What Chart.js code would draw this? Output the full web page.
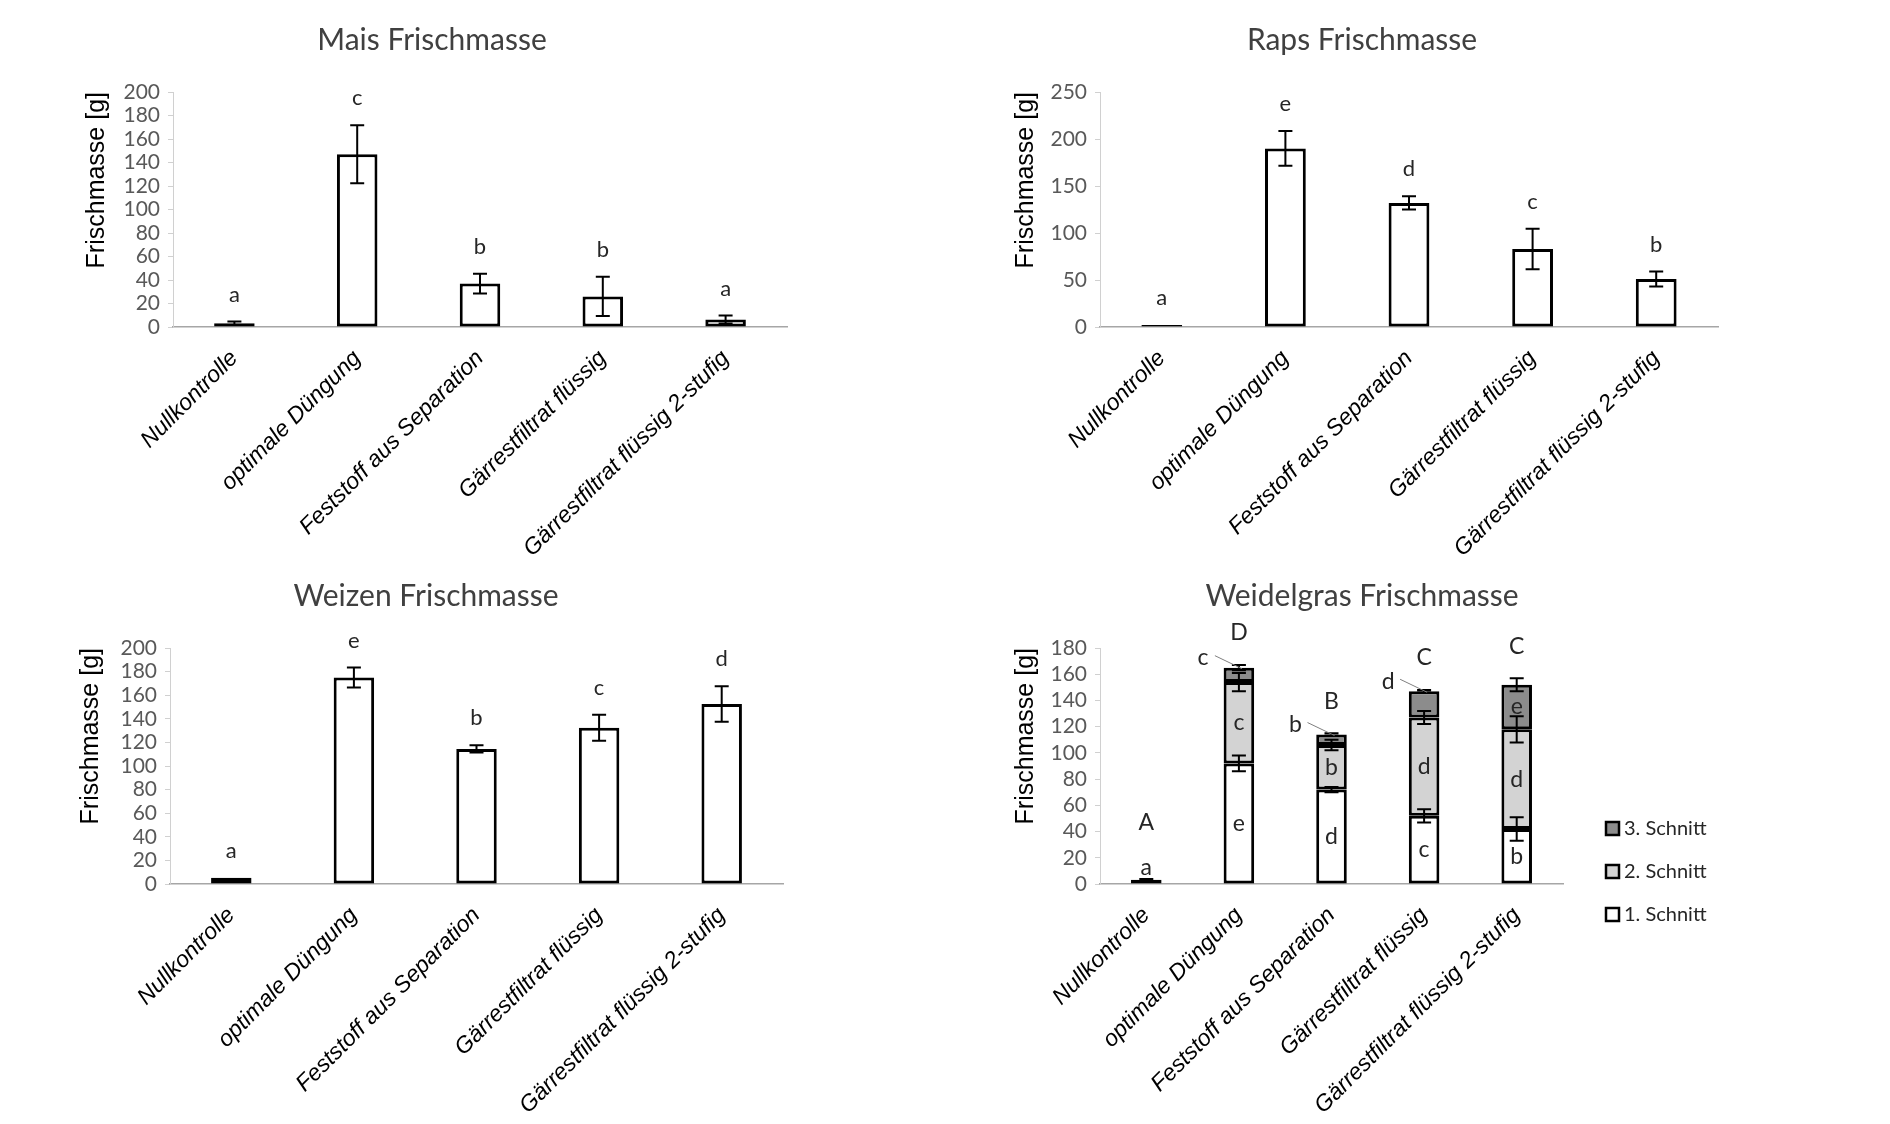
<!DOCTYPE html>
<html lang="de">
<head>
<meta charset="utf-8">
<title>Frischmasse</title>
<script src="https://cdn.jsdelivr.net/npm/chart.js@4.4.1/dist/chart.umd.min.js"></script>
<style>
  html, body { margin: 0; padding: 0; background: #fff; }
  body { width: 1890px; height: 1124px; position: relative; overflow: hidden; }
  .panel { position: absolute; }
</style>
</head>
<body>
<div class="panel" style="left:0;top:0;width:945px;height:562px"><canvas id="mais-chart"></canvas></div>
<div class="panel" style="left:945px;top:0;width:945px;height:562px"><canvas id="raps-chart"></canvas></div>
<div class="panel" style="left:0;top:556px;width:945px;height:568px"><canvas id="weizen-chart"></canvas></div>
<div class="panel" style="left:945px;top:556px;width:945px;height:568px"><canvas id="gras-chart"></canvas></div>
<script>
// treatments, same order in all four panels
const categories = ['Nullkontrolle', 'optimale Düngung', 'Feststoff aus Separation', 'Gärrestfiltrat flüssig', 'Gärrestfiltrat flüssig 2-stufig'];

const maisValues = [3.1, 147, 37, 26, 6.3];
const maisErrors = [1.5, 24.6, 8.4, 16.7, 3.4];
const maisLetters = ['a', 'c', 'b', 'b', 'a'];
const maisTicks = [0, 200, 20];

const rapsValues = [2, 190, 132, 83, 51];
const rapsErrors = [0, 18.5, 7, 21.5, 8];
const rapsLetters = ['a', 'e', 'd', 'c', 'b'];
const rapsTicks = [0, 250, 50];

const weizenValues = [5.4, 175, 114.5, 132.5, 152.5];
const weizenErrors = [0, 8.5, 3, 11, 15];
const weizenLetters = ['a', 'e', 'b', 'c', 'd'];
const weizenTicks = [0, 200, 20];

// Weidelgras: three cuts stacked
const grasSeries = ['1. Schnitt', '2. Schnitt', '3. Schnitt'];
const gras1Values = [3.3, 92, 72, 52, 42];
const gras1Errors = [0.5, 6, 2, 5, 9];
const gras1Letters = ['a', 'e', 'd', 'c', 'b'];
const gras2Values = [0, 62, 34, 75, 76];
const gras2Errors = [0, 7, 4, 5, 10];
const gras2Letters = ['', 'c', 'b', 'd', 'd'];
const gras3Values = [0, 11, 8, 20, 34];
const gras3Errors = [0, 2, 1, 1, 5];
const gras3Letters = ['', 'c', 'b', 'd', 'e'];
const grasTotalLetters = ['A', 'D', 'B', 'C', 'C'];
const grasTicks = [0, 180, 20];

const grasColors = ['#ffffff', '#d3d3d3', '#8c8c8c'];

// error bars, significance letters, panel title, legend
const annotatePlugin = {
    id: 'annotate',
    afterDatasetsDraw(chart, args, opts) {
        const ctx = chart.ctx;
        const yScale = chart.scales.y;
        const tops = categories.map(() => Infinity);
        ctx.save();
        ctx.strokeStyle = '#000';
        ctx.lineWidth = 2;
        chart.data.datasets.forEach((ds, i) => {
            const meta = chart.getDatasetMeta(i);
            meta.data.forEach((bar, j) => {
                if (!ds.data[j]) return;
                tops[j] = Math.min(tops[j], bar.y);
                const err = ds.errors[j];
                if (!err) return;
                const topValue = yScale.getValueForPixel(bar.y);
                const hi = yScale.getPixelForValue(topValue + err);
                const lo = yScale.getPixelForValue(topValue - err);
                ctx.beginPath();
                ctx.moveTo(bar.x, hi); ctx.lineTo(bar.x, lo);
                ctx.moveTo(bar.x - 7, hi); ctx.lineTo(bar.x + 7, hi);
                ctx.moveTo(bar.x - 7, lo); ctx.lineTo(bar.x + 7, lo);
                ctx.stroke();
                tops[j] = Math.min(tops[j], hi);
            });
        });

        ctx.fillStyle = '#262626';
        ctx.textAlign = 'center';
        ctx.textBaseline = 'middle';
        ctx.font = '22px Lato';

        if (!opts.stacked) {
            const meta = chart.getDatasetMeta(0);
            meta.data.forEach((bar, j) => {
                ctx.fillText(chart.data.datasets[0].letters[j], bar.x, tops[j] - 27);
            });
        } else {
            const lifted = categories.map(() => 0);
            chart.data.datasets.forEach((ds, i) => {
                const meta = chart.getDatasetMeta(i);
                meta.data.forEach((bar, j) => {
                    const letter = ds.letters[j];
                    if (!letter) return;
                    const h = bar.base - bar.y;
                    ctx.font = '23px Lato';
                    if (h > 32) {
                        ctx.fillText(letter, bar.x, (bar.y + bar.base) / 2);
                    } else if (i === 0) {
                        ctx.fillText(letter, bar.x, bar.y - 12);
                        lifted[j] = 24;
                    } else {
                        // small top segment: letter sits left of the bar with a leader line
                        const lx = bar.x - 36;
                        const ly = bar.y - 10;
                        ctx.fillText(letter, lx, ly);
                        ctx.save();
                        ctx.strokeStyle = '#7f7f7f';
                        ctx.lineWidth = 1;
                        ctx.beginPath();
                        ctx.moveTo(lx + 12, ly - 2);
                        ctx.lineTo(bar.x + 3, bar.y + 1);
                        ctx.stroke();
                        ctx.restore();
                    }
                });
            });
            ctx.font = '23px Lato';
            opts.totalLetters.forEach((letter, j) => {
                ctx.fillText(letter, chart.getDatasetMeta(0).data[j].x, tops[j] - lifted[j] - 32);
            });
        }
        ctx.restore();
    },
    afterDraw(chart, args, opts) {
        const ctx = chart.ctx;
        ctx.save();
        ctx.fillStyle = '#404040';
        ctx.font = '30px Lato';
        ctx.textAlign = 'center';
        ctx.textBaseline = 'middle';
        ctx.fillText(opts.title, opts.titleX, 40);

        if (opts.legendX) {
            // legend lists the cuts top-down from 3 to 1
            ctx.font = '20px Lato';
            ctx.textAlign = 'left';
            const items = chart.data.datasets.slice().reverse();
            items.forEach((ds, k) => {
                const y = opts.legendY + k * 43;
                ctx.fillStyle = ds.backgroundColor;
                ctx.fillRect(opts.legendX, y - 6, 13, 13);
                ctx.strokeStyle = '#000';
                ctx.lineWidth = 2.5;
                ctx.strokeRect(opts.legendX, y - 6, 13, 13);
                ctx.fillStyle = '#262626';
                ctx.fillText(ds.label, opts.legendX + 18, y + 1);
            });
        }
        ctx.restore();
    }
};

function buildOptions(frame, ticks, stacked, annotate) {
    return {
        responsive: true,
        maintainAspectRatio: false,
        animation: false,
        layout: { padding: { left: frame.padLeft, right: frame.padRight, top: 92, bottom: 0 } },
        plugins: {
            legend: { display: false },
            tooltip: { enabled: false },
            annotate: annotate
        },
        scales: {
            x: {
                stacked: stacked,
                grid: { display: false },
                border: { display: true, color: '#a6a6a6', width: 1.5 },
                ticks: {
                    autoSkip: false,
                    minRotation: 45,
                    maxRotation: 45,
                    padding: 10,
                    color: '#000',
                    font: { family: 'Liberation Sans', size: 23, style: 'italic' }
                },
                afterFit: scale => { scale.height = frame.axisHeight; }
            },
            y: {
                stacked: stacked,
                min: ticks[0],
                max: ticks[1],
                ticks: {
                    stepSize: ticks[2],
                    autoSkip: false,
                    padding: 8,
                    color: '#595959',
                    font: { family: 'Lato', size: 21, lineHeight: 1 }
                },
                grid: { drawOnChartArea: false, drawTicks: true, tickLength: 5, color: '#d0d0d0' },
                border: { display: true, color: '#d0d0d0', width: 1 },
                title: {
                    display: true,
                    text: 'Frischmasse [g]',
                    align: 'end',
                    color: '#000',
                    padding: { top: 0, bottom: 4 },
                    font: { family: 'Liberation Sans', size: 25 }
                },
                afterFit: scale => { scale.width = frame.axisWidth; }
            }
        }
    };
}

function simpleChart(id, title, values, errors, letters, ticks, frame) {
    const ctx = document.getElementById(id).getContext('2d');
    return new Chart(ctx, {
        type: 'bar',
        data: {
            labels: categories,
            datasets: [{
                data: values,
                errors: errors,
                letters: letters,
                backgroundColor: '#ffffff',
                borderColor: '#000000',
                borderWidth: 3,
                borderSkipped: false,
                barPercentage: 0.33,
                categoryPercentage: 1
            }]
        },
        options: buildOptions(frame, ticks, false, { title: title, titleX: frame.titleX }),
        plugins: [annotatePlugin]
    });
}

simpleChart('mais-chart', 'Mais Frischmasse', maisValues, maisErrors, maisLetters, maisTicks,
    { padLeft: 82, axisWidth: 91, padRight: 158, axisHeight: 235, titleX: 432 });
simpleChart('raps-chart', 'Raps Frischmasse', rapsValues, rapsErrors, rapsLetters, rapsTicks,
    { padLeft: 66, axisWidth: 89, padRight: 172, axisHeight: 235, titleX: 417 });
simpleChart('weizen-chart', 'Weizen Frischmasse', weizenValues, weizenErrors, weizenLetters, weizenTicks,
    { padLeft: 76, axisWidth: 94, padRight: 162, axisHeight: 240, titleX: 426 });

const grasValues = [gras1Values, gras2Values, gras3Values];
const grasErrors = [gras1Errors, gras2Errors, gras3Errors];
const grasLetters = [gras1Letters, gras2Letters, gras3Letters];

new Chart(document.getElementById('gras-chart').getContext('2d'), {
    type: 'bar',
    data: {
        labels: categories,
        datasets: grasSeries.map((name, i) => ({
            label: name,
            data: grasValues[i],
            errors: grasErrors[i],
            letters: grasLetters[i],
            backgroundColor: grasColors[i],
            borderColor: '#000000',
            borderWidth: 3,
            borderSkipped: false,
            barPercentage: 0.33,
            categoryPercentage: 1
        }))
    },
    options: buildOptions({ padLeft: 66, axisWidth: 89, padRight: 327, axisHeight: 240 }, grasTicks, true, {
        title: 'Weidelgras Frischmasse',
        titleX: 417,
        stacked: true,
        totalLetters: grasTotalLetters,
        legendX: 661,
        legendY: 272
    }),
    plugins: [annotatePlugin]
});
</script>
</body>
</html>
